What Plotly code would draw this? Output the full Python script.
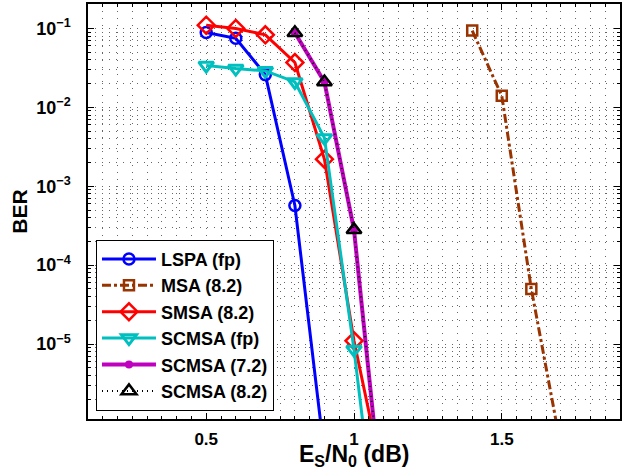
import plotly.graph_objects as go

# BER curves
es_lspa = [0.5, 0.6, 0.7, 0.8, 0.9]
ber_lspa = [0.089, 0.075, 0.026, 5.7e-4, 4e-7]

es_msa = [1.4, 1.5, 1.6, 1.7]
ber_msa = [0.094, 0.014, 5e-5, 5e-7]

es_smsa = [0.5, 0.6, 0.7, 0.8, 0.9, 1.0, 1.1]
ber_smsa = [0.11, 0.1, 0.083, 0.037, 0.0022, 1.1e-5, 1.8e-7]

es_scmsa_fp = [0.5, 0.6, 0.7, 0.8, 0.9, 1.0, 1.1]
ber_scmsa_fp = [0.034, 0.031, 0.029, 0.021, 0.0041, 8.5e-6, 7e-9]

es_scmsa72 = [0.8, 0.9, 1.0, 1.1]
ber_scmsa72 = [0.088, 0.021, 2.8e-4, 6.5e-8]

es_scmsa82 = [0.8, 0.9, 1.0, 1.1]
ber_scmsa82 = [0.088, 0.021, 2.8e-4, 6.5e-8]

# y tick labels
y_tickvals = [1e-5, 1e-4, 1e-3, 1e-2, 1e-1]
y_ticktext = ['10<sup>−5</sup>', '10<sup>−4</sup>', '10<sup>−3</sup>',
              '10<sup>−2</sup>', '10<sup>−1</sup>']
minor_y = [m * 10.0 ** e for e in range(-7, 0) for m in range(2, 10)]

fig = go.Figure()

fig.add_trace(go.Scatter(
    x=es_lspa, y=ber_lspa, name='LSPA (fp)', mode='lines+markers',
    line=dict(color='#0000FF', width=3),
    marker=dict(symbol='circle-open', size=11, line=dict(width=2.5, color='#0000FF'))
))
fig.add_trace(go.Scatter(
    x=es_msa, y=ber_msa, name='MSA (8.2)', mode='lines+markers',
    line=dict(color='#993300', width=3, dash='dashdot'),
    marker=dict(symbol='square-open', size=10, line=dict(width=2.5, color='#993300'))
))
fig.add_trace(go.Scatter(
    x=es_smsa, y=ber_smsa, name='SMSA (8.2)', mode='lines+markers',
    line=dict(color='#FF0000', width=3),
    marker=dict(symbol='diamond-open', size=13, line=dict(width=2.5, color='#FF0000'))
))
fig.add_trace(go.Scatter(
    x=es_scmsa_fp, y=ber_scmsa_fp, name='SCMSA (fp)', mode='lines+markers',
    line=dict(color='#00BFBF', width=3),
    marker=dict(symbol='triangle-down-open', size=13, line=dict(width=3, color='#00BFBF'))
))
fig.add_trace(go.Scatter(
    x=es_scmsa72, y=ber_scmsa72, name='SCMSA (7.2)', mode='lines+markers',
    line=dict(color='#BF00BF', width=4),
    marker=dict(symbol='circle', size=8, color='#BF00BF')
))
fig.add_trace(go.Scatter(
    x=es_scmsa82, y=ber_scmsa82, name='SCMSA (8.2)', mode='lines+markers',
    line=dict(color='black', width=2, dash='1px,4px'),
    marker=dict(symbol='triangle-up-open', size=13, line=dict(width=2.5, color='black'))
))

grid_dash = '1px,6px'
grid_col = '#666666'

fig.update_layout(
    width=623, height=476,
    margin=dict(l=88, r=3, t=4, b=57),
    plot_bgcolor='white', paper_bgcolor='white',
    font=dict(family='Liberation Sans', size=17, color='black', weight='bold'),
    xaxis=dict(
        range=[0.1, 1.9], tick0=0, dtick=0.5, automargin=False,
        ticks='inside', ticklen=6, tickwidth=1, tickcolor='black',
        showline=True, linecolor='black', linewidth=1.5, mirror='ticks',
        showgrid=True, gridcolor=grid_col, griddash=grid_dash, gridwidth=1,
        zeroline=False,
        tickfont=dict(size=17), ticklabelstandoff=4,
        minor=dict(dtick=0.05, tick0=0, ticks='inside', ticklen=3, tickcolor='black',
                   showgrid=True, gridcolor=grid_col, griddash=grid_dash, gridwidth=1),
    ),
    yaxis=dict(
        type='log', range=[-5.95, -0.69], automargin=False,
        tickmode='array', tickvals=y_tickvals, ticktext=y_ticktext,
        ticks='inside', ticklen=6, tickwidth=1, tickcolor='black',
        showline=True, linecolor='black', linewidth=1.5, mirror='ticks',
        showgrid=True, gridcolor=grid_col, griddash=grid_dash, gridwidth=1,
        zeroline=False,
        tickfont=dict(size=18), ticklabelstandoff=12,
        title=dict(text='BER', font=dict(size=21), standoff=3),
        minor=dict(tickmode='array', tickvals=minor_y, ticks='inside', ticklen=3,
                   tickcolor='black', showgrid=True, gridcolor=grid_col,
                   griddash=grid_dash, gridwidth=1),
    ),
    legend=dict(
        x=0.015, y=0.02, xanchor='left', yanchor='bottom',
        bgcolor='white', bordercolor='black', borderwidth=1,
        font=dict(size=18), itemwidth=54, tracegroupgap=0,
    ),
)

# x-axis title placed as an annotation so it can sit close to the tick labels
fig.add_annotation(
    text='E<sub>S</sub>/N<sub>0</sub> (dB)', xref='paper', yref='paper',
    x=0.5, y=-0.047, xanchor='center', yanchor='top', showarrow=False,
    font=dict(size=23),
)

fig.write_html('out.html', config={'displayModeBar': False},
               post_script="document.body.style.margin='0';")
